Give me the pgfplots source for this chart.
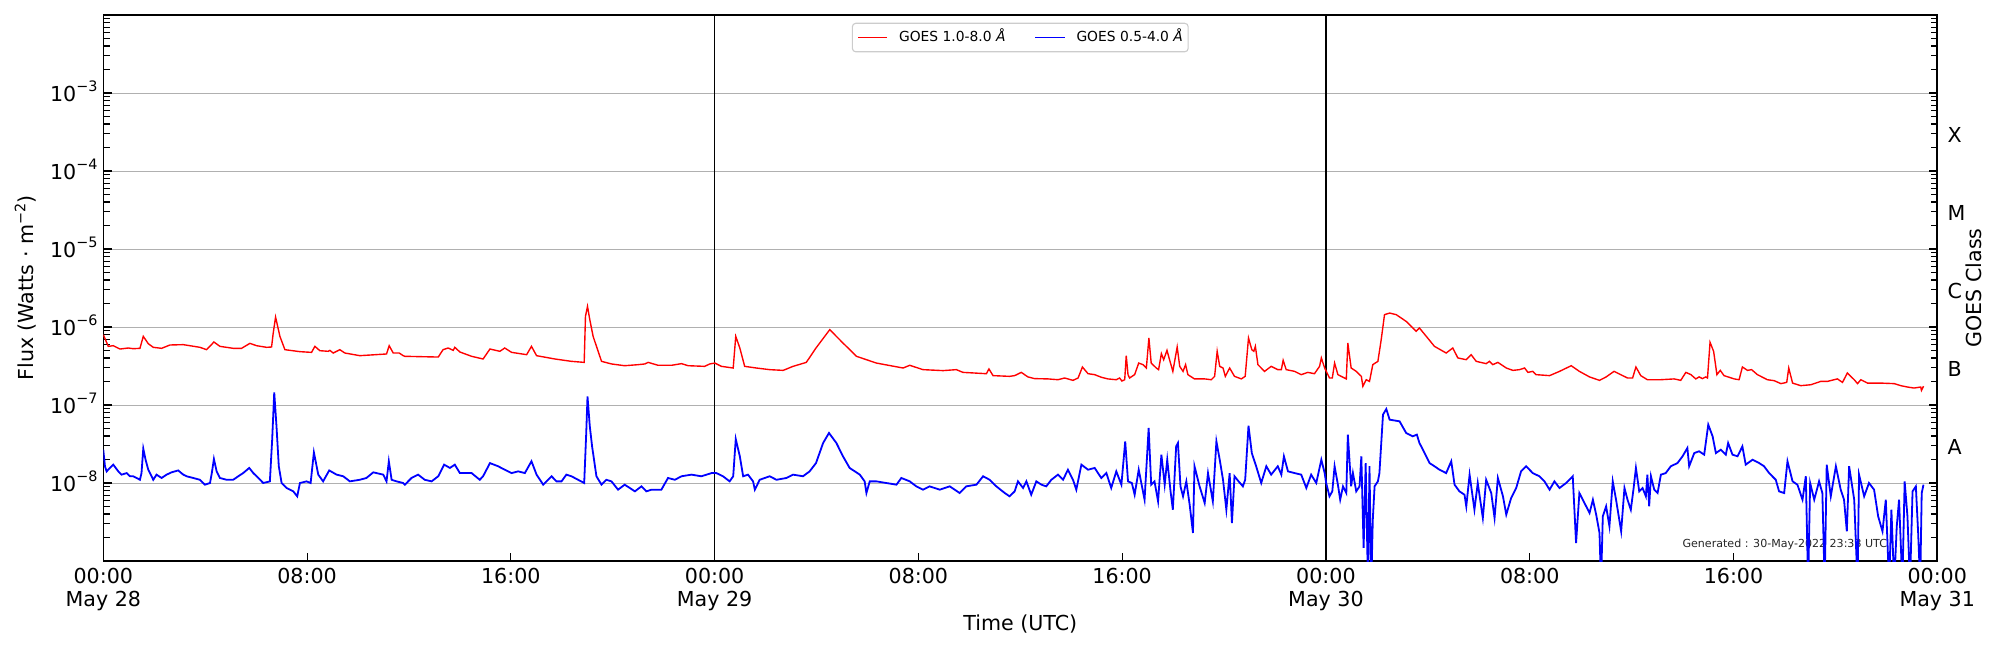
\documentclass[border=0pt]{standalone}
\usepackage{fontspec}
\setmainfont{DejaVu Sans}
\usepackage{pgfplots}
\pgfplotsset{compat=1.18}
\usepackage{pgfplotstable}
\definecolor{gridgray}{RGB}{176,176,176}
\definecolor{leggray}{RGB}{204,204,204}
\newcommand{\tl}[1]{10\raisebox{7.2pt}{\fontsize{10.4}{12}\selectfont −#1}}
\newcommand{\bigf}{\fontsize{14.9}{16.8}\selectfont}

\pgfplotstableread{
h f
0.00 7.98e-7
0.196 5.65e-7
0.392 5.76e-7
0.654 5.22e-7
0.981 5.38e-7
1.177 5.27e-7
1.439 5.33e-7
1.570 7.59e-7
1.766 6.11e-7
1.962 5.49e-7
2.289 5.33e-7
2.616 5.88e-7
3.140 5.94e-7
3.794 5.49e-7
4.055 5.12e-7
4.343 6.42e-7
4.579 5.65e-7
5.102 5.33e-7
5.429 5.33e-7
5.756 6.17e-7
6.018 5.76e-7
6.410 5.49e-7
6.606 5.54e-7
6.672 8.4e-7
6.764 1.34e-6
6.934 7.59e-7
7.130 5.12e-7
7.719 4.83e-7
8.176 4.73e-7
8.307 5.65e-7
8.503 4.97e-7
8.830 4.88e-7
8.896 5.02e-7
9.027 4.64e-7
9.288 5.12e-7
9.485 4.64e-7
10.073 4.29e-7
11.120 4.51e-7
11.224 5.76e-7
11.382 4.64e-7
11.617 4.64e-7
11.774 4.29e-7
11.84 4.21e-7
13.15 4.12e-7
13.34 5.12e-7
13.54 5.38e-7
13.74 5.02e-7
13.80 5.49e-7
14.00 4.78e-7
14.46 4.21e-7
14.91 3.89e-7
15.18 5.22e-7
15.57 4.88e-7
15.76 5.38e-7
16.03 4.73e-7
16.62 4.42e-7
16.81 5.65e-7
17.01 4.29e-7
17.73 3.89e-7
18.38 3.63e-7
18.88 3.52e-7
18.93 1.37e-6
19.01 1.84e-6
19.10 1.24e-6
19.23 7.59e-7
19.56 3.63e-7
19.95 3.36e-7
20.47 3.19e-7
21.00 3.29e-7
21.26 3.36e-7
21.39 3.52e-7
21.78 3.23e-7
22.31 3.23e-7
22.70 3.39e-7
22.96 3.19e-7
23.61 3.13e-7
23.81 3.36e-7
24.01 3.45e-7
24.27 3.13e-7
24.73 2.98e-7
24.83 7.59e-7
24.99 5.38e-7
25.18 3.13e-7
25.64 2.98e-7
26.16 2.84e-7
26.69 2.78e-7
27.08 3.13e-7
27.60 3.52e-7
27.98 5.38e-7
28.52 9.24e-7
29.04 6.23e-7
29.57 4.21e-7
30.35 3.45e-7
31.40 2.98e-7
31.66 3.23e-7
32.18 2.84e-7
32.97 2.76e-7
33.49 2.84e-7
33.75 2.62e-7
34.67 2.52e-7
34.77 2.90e-7
34.93 2.38e-7
35.58 2.33e-7
35.78 2.38e-7
36.04 2.62e-7
36.30 2.29e-7
36.56 2.18e-7
37.09 2.16e-7
37.48 2.11e-7
37.74 2.22e-7
38.07 2.07e-7
38.27 2.22e-7
38.44 3.07e-7
38.66 2.52e-7
38.92 2.45e-7
39.18 2.27e-7
39.44 2.16e-7
39.77 2.11e-7
39.90 2.22e-7
39.99 2.03e-7
40.10 2.11e-7
40.16 4.29e-7
40.23 2.45e-7
40.29 2.22e-7
40.49 2.45e-7
40.65 3.45e-7
40.82 3.29e-7
40.95 2.98e-7
41.05 7.23e-7
41.14 3.45e-7
41.34 2.98e-7
41.43 2.84e-7
41.54 4.55e-7
41.63 3.81e-7
41.76 5.02e-7
41.86 3.81e-7
41.99 2.70e-7
42.16 5.54e-7
42.26 3.13e-7
42.39 2.70e-7
42.49 3.29e-7
42.58 2.45e-7
42.84 2.16e-7
43.24 2.16e-7
43.50 2.11e-7
43.63 2.33e-7
43.73 4.88e-7
43.83 3.13e-7
43.96 2.98e-7
44.05 2.33e-7
44.22 2.98e-7
44.41 2.33e-7
44.68 2.16e-7
44.83 2.33e-7
44.96 7.23e-7
45.09 5.12e-7
45.17 4.88e-7
45.23 5.65e-7
45.33 3.29e-7
45.59 2.70e-7
45.85 3.13e-7
46.11 2.84e-7
46.25 2.84e-7
46.32 3.74e-7
46.44 2.84e-7
46.77 2.70e-7
47.03 2.45e-7
47.29 2.62e-7
47.55 2.52e-7
47.75 3.13e-7
47.82 4.01e-7
47.95 2.98e-7
48.14 2.22e-7
48.25 2.22e-7
48.34 3.45e-7
48.47 2.45e-7
48.60 2.33e-7
48.80 2.16e-7
48.86 6.23e-7
48.99 2.98e-7
49.19 2.70e-7
49.39 2.33e-7
49.45 1.74e-7
49.58 2.11e-7
49.71 2.01e-7
49.84 3.29e-7
50.04 3.63e-7
50.17 6.88e-7
50.30 1.44e-6
50.50 1.51e-6
50.76 1.44e-6
51.15 1.18e-6
51.54 8.80e-7
51.67 9.71e-7
51.94 7.59e-7
52.26 5.65e-7
52.72 4.64e-7
52.98 5.38e-7
53.18 4.01e-7
53.51 3.81e-7
53.70 4.42e-7
53.90 3.63e-7
54.29 3.39e-7
54.42 3.63e-7
54.55 3.29e-7
54.75 3.52e-7
55.08 2.98e-7
55.34 2.78e-7
55.60 2.84e-7
55.80 2.98e-7
55.93 2.62e-7
56.12 2.70e-7
56.25 2.45e-7
56.78 2.38e-7
57.17 2.70e-7
57.63 3.19e-7
57.95 2.70e-7
58.35 2.29e-7
58.74 2.07e-7
59.00 2.29e-7
59.31 2.70e-7
59.65 2.38e-7
59.84 2.22e-7
60.04 2.22e-7
60.17 3.07e-7
60.36 2.38e-7
60.62 2.11e-7
61.15 2.11e-7
61.67 2.16e-7
61.93 2.07e-7
62.13 2.62e-7
62.33 2.45e-7
62.52 2.16e-7
62.65 2.29e-7
62.78 2.18e-7
62.91 2.29e-7
62.98 2.22e-7
63.08 6.36e-7
63.22 4.88e-7
63.35 2.45e-7
63.48 2.78e-7
63.63 2.38e-7
64.03 2.16e-7
64.22 2.11e-7
64.35 3.07e-7
64.55 2.78e-7
64.71 2.84e-7
64.94 2.45e-7
65.33 2.11e-7
65.60 2.05e-7
65.86 1.88e-7
66.09 1.95e-7
66.17 2.98e-7
66.32 1.91e-7
66.64 1.77e-7
67.04 1.82e-7
67.43 2.01e-7
67.69 2.01e-7
68.08 2.16e-7
68.28 1.95e-7
68.47 2.57e-7
68.74 2.11e-7
68.87 1.88e-7
69.00 2.11e-7
69.26 1.91e-7
69.78 1.91e-7
70.31 1.88e-7
70.57 1.77e-7
70.83 1.70e-7
71.09 1.65e-7
71.35 1.70e-7
71.38 1.54e-7
71.46 1.74e-7
}\redtab

\pgfplotstableread{
h f
0.00 2.67e-8
0.065 1.64e-8
0.131 1.41e-8
0.262 1.56e-8
0.392 1.72e-8
0.589 1.41e-8
0.72 1.28e-8
0.916 1.34e-8
1.05 1.22e-8
1.177 1.22e-8
1.31 1.16e-8
1.439 1.10e-8
1.50 1.34e-8
1.570 2.76e-8
1.66 1.99e-8
1.766 1.48e-8
1.962 1.10e-8
2.09 1.28e-8
2.29 1.16e-8
2.486 1.28e-8
2.68 1.37e-8
2.94 1.45e-8
3.14 1.28e-8
3.27 1.22e-8
3.53 1.16e-8
3.794 1.10e-8
3.99 9.52e-9
4.19 1.00e-8
4.26 1.34e-8
4.343 2.03e-8
4.45 1.41e-8
4.58 1.16e-8
4.84 1.10e-8
5.10 1.10e-8
5.30 1.22e-8
5.49 1.34e-8
5.73 1.56e-8
5.89 1.34e-8
6.02 1.22e-8
6.28 1.00e-8
6.54 1.05e-8
6.63 3.59e-8
6.711 1.45e-7
6.80 5.33e-8
6.89 1.64e-8
7.00 1.00e-8
7.196 8.63e-9
7.33 8.21e-9
7.457 7.82e-9
7.614 6.75e-9
7.72 1.00e-8
7.98 1.05e-8
8.14 1.00e-8
8.268 2.47e-8
8.44 1.28e-8
8.63 1.05e-8
8.87 1.45e-8
9.16 1.28e-8
9.42 1.22e-8
9.68 1.05e-8
10.07 1.10e-8
10.33 1.16e-8
10.60 1.37e-8
10.99 1.28e-8
11.12 1.05e-8
11.21 1.90e-8
11.32 1.10e-8
11.51 1.05e-8
11.77 1.00e-8
11.84 9.52e-9
12.10 1.16e-8
12.36 1.28e-8
12.62 1.10e-8
12.89 1.05e-8
13.15 1.22e-8
13.38 1.72e-8
13.61 1.56e-8
13.80 1.72e-8
14.00 1.34e-8
14.46 1.34e-8
14.78 1.10e-8
14.91 1.22e-8
15.18 1.80e-8
15.50 1.64e-8
15.76 1.48e-8
16.03 1.34e-8
16.29 1.41e-8
16.55 1.34e-8
16.81 1.90e-8
17.01 1.28e-8
17.27 9.52e-9
17.60 1.22e-8
17.79 1.05e-8
17.99 1.05e-8
18.18 1.28e-8
18.38 1.22e-8
18.64 1.10e-8
18.88 1.00e-8
18.96 4.38e-8
19.01 1.29e-7
19.10 5.33e-8
19.19 2.95e-8
19.36 1.22e-8
19.56 9.52e-9
19.75 1.10e-8
19.95 1.05e-8
20.21 8.21e-9
20.47 9.52e-9
20.67 8.63e-9
20.87 7.82e-9
21.13 9.06e-9
21.32 7.82e-9
21.52 8.21e-9
21.91 8.21e-9
22.17 1.16e-8
22.44 1.10e-8
22.70 1.22e-8
23.09 1.28e-8
23.48 1.22e-8
23.88 1.34e-8
24.07 1.34e-8
24.33 1.22e-8
24.59 1.05e-8
24.73 1.22e-8
24.83 3.66e-8
24.99 2.20e-8
25.12 1.22e-8
25.31 1.28e-8
25.51 1.05e-8
25.58 8.21e-9
25.77 1.10e-8
26.16 1.22e-8
26.43 1.10e-8
26.82 1.16e-8
27.08 1.28e-8
27.47 1.22e-8
27.73 1.41e-8
27.98 1.80e-8
28.26 3.26e-8
28.49 4.38e-8
28.78 3.26e-8
29.04 2.20e-8
29.30 1.56e-8
29.70 1.28e-8
29.89 1.05e-8
29.96 7.44e-9
30.09 1.05e-8
30.35 1.05e-8
30.74 1.00e-8
31.14 9.52e-9
31.33 1.16e-8
31.66 1.05e-8
31.92 9.06e-9
32.18 8.21e-9
32.44 9.06e-9
32.84 8.21e-9
33.23 9.06e-9
33.62 7.44e-9
33.88 9.06e-9
34.28 9.52e-9
34.54 1.22e-8
34.80 1.10e-8
35.06 9.06e-9
35.39 7.44e-9
35.58 6.75e-9
35.78 7.82e-9
35.91 1.05e-8
36.11 8.63e-9
36.24 1.05e-8
36.43 7.08e-9
36.63 1.05e-8
36.83 9.52e-9
37.02 9.06e-9
37.22 1.10e-8
37.48 1.28e-8
37.68 1.10e-8
37.87 1.48e-8
38.07 1.10e-8
38.20 8.21e-9
38.40 1.72e-8
38.66 1.48e-8
38.92 1.56e-8
39.18 1.16e-8
39.38 1.34e-8
39.57 8.63e-9
39.77 1.41e-8
39.97 9.52e-9
40.12 3.42e-8
40.23 1.05e-8
40.38 1.00e-8
40.49 7.08e-9
40.65 1.48e-8
40.88 6.11e-9
41.04 5.07e-8
41.14 9.52e-9
41.27 1.05e-8
41.41 5.82e-9
41.54 2.31e-8
41.67 9.52e-9
41.77 1.99e-8
41.90 7.82e-9
41.99 4.55e-9
42.12 2.95e-8
42.19 3.26e-8
42.29 9.06e-9
42.39 6.75e-9
42.52 1.05e-8
42.65 5.28e-9
42.78 2.29e-9
42.84 1.64e-8
43.04 9.06e-9
43.24 5.54e-9
43.37 1.34e-8
43.56 5.82e-9
43.70 3.42e-8
43.83 1.99e-8
43.96 1.10e-8
44.09 4.55e-9
44.22 1.34e-8
44.31 3.07e-9
44.41 1.22e-8
44.57 1.05e-8
44.74 9.06e-9
44.83 1.10e-8
44.96 5.43e-8
45.09 2.42e-8
45.26 1.64e-8
45.46 1.00e-8
45.66 1.64e-8
45.85 1.28e-8
46.11 1.64e-8
46.25 1.28e-8
46.35 2.20e-8
46.51 1.41e-8
46.77 1.34e-8
47.03 1.28e-8
47.23 8.63e-9
47.42 1.28e-8
47.62 1.00e-8
47.82 1.99e-8
47.95 1.34e-8
48.01 1.00e-8
48.14 6.75e-9
48.25 7.82e-9
48.34 1.64e-8
48.47 9.52e-9
48.56 6.11e-9
48.67 9.06e-9
48.80 7.44e-9
48.86 4.17e-8
48.99 9.06e-9
49.06 1.34e-8
49.19 7.82e-9
49.32 9.06e-9
49.39 2.20e-8
49.48 1.47e-9
49.56 1.80e-8
49.65 5e-10
49.71 1.64e-8
49.78 5e-10
49.84 3.39e-9
49.91 9.06e-9
50.04 1.05e-8
50.10 1.34e-8
50.24 7.52e-8
50.37 8.89e-8
50.50 6.49e-8
50.89 6.18e-8
51.15 4.38e-8
51.41 3.97e-8
51.57 4.17e-8
51.67 3.26e-8
51.81 2.67e-8
52.07 1.80e-8
52.26 1.64e-8
52.46 1.48e-8
52.72 1.34e-8
52.92 1.90e-8
53.05 9.52e-9
53.24 7.82e-9
53.44 7.08e-9
53.51 5.02e-9
53.64 1.28e-8
53.83 4.55e-9
53.96 1.00e-8
54.16 3.56e-9
54.29 1.10e-8
54.49 7.44e-9
54.62 3.56e-9
54.75 1.16e-8
54.95 6.75e-9
55.08 3.93e-9
55.27 6.42e-9
55.47 8.63e-9
55.66 1.41e-8
55.86 1.64e-8
56.12 1.34e-8
56.38 1.22e-8
56.58 1.05e-8
56.78 8.21e-9
56.97 1.05e-8
57.17 8.63e-9
57.43 1.00e-8
57.69 1.22e-8
57.82 1.70e-9
57.95 7.44e-9
58.15 5.54e-9
58.35 4.13e-9
58.48 6.11e-9
58.61 3.93e-9
58.74 2.29e-9
58.80 5e-10
58.87 3.74e-9
59.00 5.02e-9
59.13 2.78e-9
59.26 1.05e-8
59.39 6.11e-9
59.59 2.40e-9
59.72 8.63e-9
59.84 6.11e-9
59.97 4.55e-9
60.08 8.63e-9
60.17 1.56e-8
60.30 7.82e-9
60.43 8.63e-9
60.56 6.75e-9
60.62 1.28e-8
60.69 5.02e-9
60.76 1.22e-8
60.89 8.21e-9
61.02 7.44e-9
61.15 1.28e-8
61.34 1.34e-8
61.54 1.64e-8
61.80 1.80e-8
62.00 2.20e-8
62.19 2.81e-8
62.26 1.64e-8
62.46 2.42e-8
62.65 2.55e-8
62.85 2.31e-8
63.01 5.60e-8
63.18 3.97e-8
63.31 2.42e-8
63.50 2.67e-8
63.70 2.31e-8
63.79 3.26e-8
63.96 2.31e-8
64.16 2.20e-8
64.35 2.95e-8
64.48 1.72e-8
64.75 1.99e-8
65.01 1.80e-8
65.20 1.64e-8
65.40 1.34e-8
65.66 1.10e-8
65.79 7.82e-9
65.99 7.44e-9
66.12 1.90e-8
66.32 1.05e-8
66.51 9.52e-9
66.71 6.11e-9
66.84 1.22e-8
66.93 5e-10
67.01 1.00e-8
67.17 6.11e-9
67.36 1.05e-8
67.49 7.44e-9
67.58 5e-10
67.66 1.72e-8
67.82 6.75e-9
68.02 1.64e-8
68.21 8.21e-9
68.34 6.11e-9
68.45 2.40e-9
68.54 1.64e-8
68.74 6.11e-9
68.87 5e-10
68.93 1.28e-8
69.13 6.75e-9
69.32 1.00e-8
69.52 8.21e-9
69.68 3.74e-9
69.85 2.40e-9
69.98 6.11e-9
70.11 5e-10
70.20 4.55e-9
70.31 5e-10
70.41 2.78e-9
70.50 6.11e-9
70.63 5e-10
70.72 1.05e-8
70.83 3.74e-9
70.93 5e-10
71.03 7.82e-9
71.16 9.06e-9
71.25 2.29e-9
71.33 5e-10
71.39 7.44e-9
71.46 9.52e-9
}\bluetab

\begin{document}
\begin{tikzpicture}
\begin{axis}[
  at={(74.65pt,64.32pt)}, anchor=south west,
  scale only axis, width=1325.4pt, height=394.6pt,
  xmin=0, xmax=72, ymode=log, ymin=1e-9, ymax=1e-2,
  clip mode=individual,
  axis line style={line width=1.1pt},
  tick style={black, line width=0.8pt},
  major tick length=6pt, minor tick length=4.5pt,
  xtick={0,8,16,24,32,40,48,56,64,72},
  xticklabels={00:00\\May 28, 08:00, 16:00, 00:00\\May 29, 08:00, 16:00, 00:00\\May 30, 08:00, 16:00, 00:00\\May 31},
  xtick pos=left,
  xticklabel style={font=\bigf, align=center, inner sep=0pt, yshift=-4.8pt},
  ytick={1e-9,1e-8,1e-7,1e-6,1e-5,1e-4,1e-3,1e-2},
  yticklabels={{},\tl{8},\tl{7},\tl{6},\tl{5},\tl{4},\tl{3},{}},
  minor ytick={2e-9,3e-9,4e-9,5e-9,6e-9,7e-9,8e-9,9e-9,
    2e-8,3e-8,4e-8,5e-8,6e-8,7e-8,8e-8,9e-8,
    2e-7,3e-7,4e-7,5e-7,6e-7,7e-7,8e-7,9e-7,
    2e-6,3e-6,4e-6,5e-6,6e-6,7e-6,8e-6,9e-6,
    2e-5,3e-5,4e-5,5e-5,6e-5,7e-5,8e-5,9e-5,
    2e-4,3e-4,4e-4,5e-4,6e-4,7e-4,8e-4,9e-4,
    2e-3,3e-3,4e-3,5e-3,6e-3,7e-3,8e-3,9e-3},
  yticklabel style={font=\bigf, inner sep=0pt, anchor=base east, xshift=-4pt, yshift=-5.8pt},
  ymajorgrids=true,
  major grid style={gridgray, line width=0.6pt},
  xlabel={Time (UTC)},
  xlabel style={at={(rel axis cs:0.5,-0.1154)}, anchor=center, font=\bigf},
  ylabel={Flux (Watts · m\raisebox{6pt}{\fontsize{10.4}{12}\selectfont −2})},
  ylabel style={at={(rel axis cs:-0.0424,0.5)}, anchor=center, font=\bigf},
  legend columns=2,
  legend image code/.code={\draw[#1] (0pt,0pt) -- (21pt,0pt);},
  legend style={at={(rel axis cs:0.5,1)}, yshift=-5.6pt, anchor=north,
    draw=leggray, line width=0.8pt, rounded corners=2.5pt, fill=white, fill opacity=0.8, text opacity=1,
    font=\fontsize{10}{12}\selectfont,
    inner xsep=3.8pt, inner ysep=5.6pt,
    nodes={inner sep=0pt, text height=7.6pt, text depth=1.8pt},
    /tikz/every odd column/.append style={column sep=8pt},
    /tikz/every even column/.append style={column sep=21pt}},
]
\draw[black, line width=0.9pt] (axis cs:24,1e-9) -- (axis cs:24,1e-2);
\draw[black, line width=0.9pt] (axis cs:48,1e-9) -- (axis cs:48,1e-2);
\node[anchor=east, font=\fontsize{8}{10}\selectfont, text=black!85] at (rel axis cs:0.9753,0.0306) {Generated : 30-May-2022 23:33 UTC};
\addplot[red, line width=1pt] table[x=h, y=f] {\redtab};
\addlegendentry{GOES 1.0-8.0 \textit{Å}}
\addplot[blue, line width=1.3pt] table[x=h, y=f] {\bluetab};
\addlegendentry{GOES 0.5-4.0 \textit{Å}}
\node[anchor=west, font=\bigf, xshift=4pt, yshift=-2pt] at (rel axis cs:1,0.7857) {X};
\node[anchor=west, font=\bigf, xshift=4pt, yshift=-2pt] at (rel axis cs:1,0.6429) {M};
\node[anchor=west, font=\bigf, xshift=4pt, yshift=-2pt] at (rel axis cs:1,0.5) {C};
\node[anchor=west, font=\bigf, xshift=4pt, yshift=-2pt] at (rel axis cs:1,0.3571) {B};
\node[anchor=west, font=\bigf, xshift=4pt, yshift=-2pt] at (rel axis cs:1,0.2143) {A};
\node[rotate=90, anchor=center, font=\bigf] at (rel axis cs:1.0200,0.5) {GOES Class};
\end{axis}
\pgfresetboundingbox
\path[use as bounding box] (0,0) rectangle (1445.4pt,469.75pt);
\end{tikzpicture}
\end{document}
